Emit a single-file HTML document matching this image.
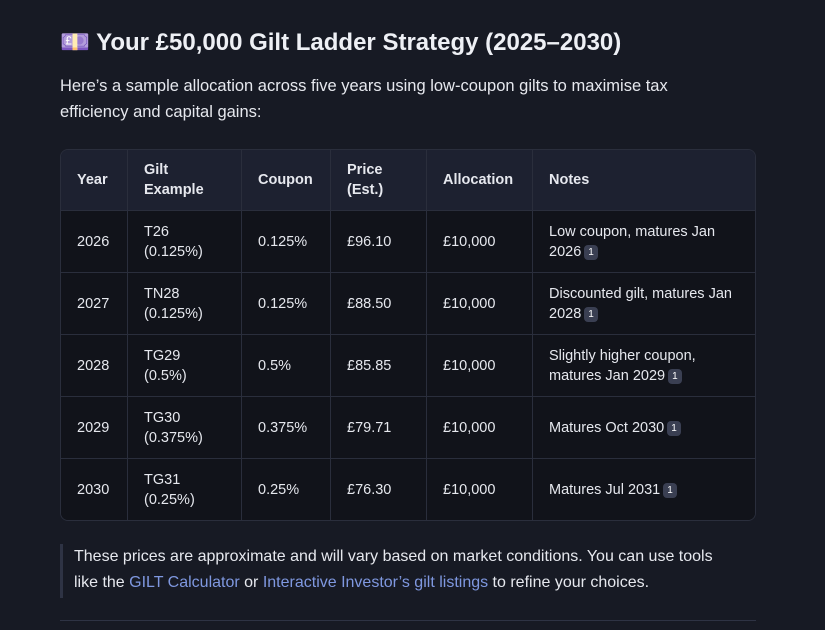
<!DOCTYPE html>
<html><head><meta charset="utf-8"><style>
body{margin:0;width:825px;height:630px;background:#171a24;color:#e6e8ee;font-family:"Liberation Sans",sans-serif;overflow:hidden;position:relative}
h1{position:absolute;left:60px;top:28px;margin:0;font-size:24px;font-weight:bold;color:#eef0f5}
p.intro{position:absolute;left:60px;top:73px;margin:0;width:655px;font-size:16.5px;line-height:26px}
table{position:absolute;left:60px;top:149px;width:696px;border-collapse:separate;border-spacing:0;border:1px solid #2a2e3c;border-radius:8px;overflow:hidden;font-size:14.5px}
th,td{text-align:left;padding:0 16px;border-right:1px solid #2a2e3c;border-bottom:1px solid #2a2e3c;line-height:20px}
th:last-child,td:last-child{border-right:none}
tr:last-child td{border-bottom:none}
th{background:#1d2130;height:60px;font-weight:bold}
td{background:#11131a;height:61px}
.b{display:inline-block;background:#3a3f52;color:#fff;font-size:10px;border-radius:4px;padding:0 4px;line-height:15px;margin-left:3px;vertical-align:1px}
.q{position:absolute;left:60px;top:544px;height:54px;border-left:3px solid #2e3344;padding-left:11px;font-size:16px;line-height:26px;width:665px}
a{color:#7f98e0;text-decoration:none}
.hr{position:absolute;left:60px;top:620px;width:696px;height:1px;background:#2e3344}
</style></head><body>
<h1>💷 Your £50,000 Gilt Ladder Strategy (2025–2030)</h1>
<p class="intro">Here’s a sample allocation across five years using low-coupon gilts to maximise tax efficiency and capital gains:</p>
<table>
<colgroup><col style="width:67px"><col style="width:114px"><col style="width:89px"><col style="width:96px"><col style="width:106px"><col></colgroup>
<tr><th>Year</th><th>Gilt<br>Example</th><th>Coupon</th><th>Price<br>(Est.)</th><th>Allocation</th><th>Notes</th></tr>
<tr><td>2026</td><td>T26<br>(0.125%)</td><td>0.125%</td><td>£96.10</td><td>£10,000</td><td>Low coupon, matures Jan 2026<span class="b">1</span></td></tr>
<tr><td>2027</td><td>TN28<br>(0.125%)</td><td>0.125%</td><td>£88.50</td><td>£10,000</td><td>Discounted gilt, matures Jan 2028<span class="b">1</span></td></tr>
<tr><td>2028</td><td>TG29<br>(0.5%)</td><td>0.5%</td><td>£85.85</td><td>£10,000</td><td>Slightly higher coupon, matures Jan 2029<span class="b">1</span></td></tr>
<tr><td>2029</td><td>TG30<br>(0.375%)</td><td>0.375%</td><td>£79.71</td><td>£10,000</td><td>Matures Oct 2030<span class="b">1</span></td></tr>
<tr><td>2030</td><td>TG31<br>(0.25%)</td><td>0.25%</td><td>£76.30</td><td>£10,000</td><td>Matures Jul 2031<span class="b">1</span></td></tr>
</table>
<div class="q">These prices are approximate and will vary based on market conditions. You can use tools like the <a href="#">GILT Calculator</a> or <a href="#">Interactive Investor’s gilt listings</a> to refine your choices.</div>
<div class="hr"></div>
</body></html>
